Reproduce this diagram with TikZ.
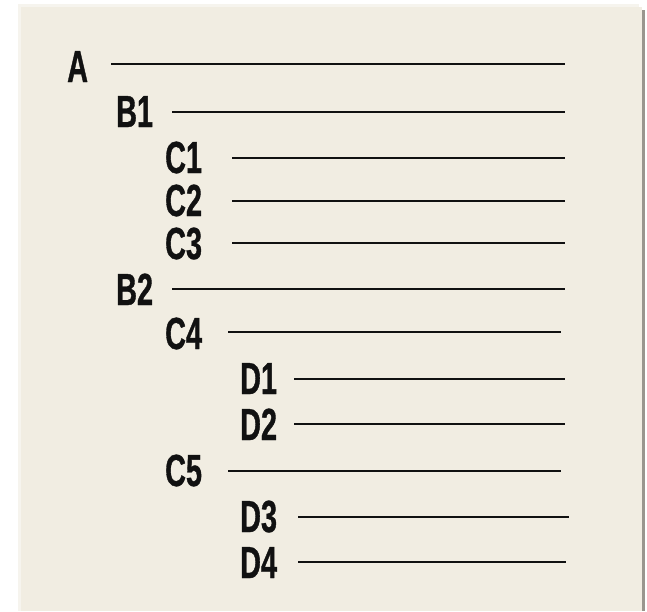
\documentclass[tikz,border=0pt]{standalone}
\usepackage{fontspec}
\newfontfamily\labfont{Liberation Sans}[FakeStretch=0.64,FakeBold=0.8]
\definecolor{panel}{HTML}{F1EDE2}
\definecolor{panellight}{HTML}{F6F4EE}
\definecolor{shadow}{HTML}{9A968E}
\definecolor{ink}{HTML}{111111}
\begin{document}
\begin{tikzpicture}[x=1pt,y=-1pt,
  lab/.style={anchor=base west,inner sep=0pt,font=\labfont\bfseries\fontsize{45}{45}\selectfont,text=ink},
  rule/.style={draw=ink,line width=2pt}]
\useasboundingbox (0,0) rectangle (647,611);
\fill[white] (0,0) rectangle (647,611);
\fill[shadow] (24,10) rectangle (645,611);
\fill[panellight] (18,4) rectangle (639,611);
\fill[panel] (21,7) rectangle (642,611);
% labels
\node[lab] (A)  at (67,82)  {A};
\node[lab] (B1) at (116,127) {B1};
\node[lab] (C1) at (165,173) {C1};
\node[lab] (C2) at (165,216) {C2};
\node[lab] (C3) at (165,259) {C3};
\node[lab] (B2) at (116,305) {B2};
\node[lab] (C4) at (165,349) {C4};
\node[lab] (D1) at (240,394) {D1};
\node[lab] (D2) at (240,440) {D2};
\node[lab] (C5) at (165,486) {C5};
\node[lab] (D3) at (240,532) {D3};
\node[lab] (D4) at (240,578) {D4};
% line end points
\coordinate (a1) at (111,64);  \coordinate (a2) at (565,64);
\coordinate (b11) at (172,112); \coordinate (b12) at (565,112);
\coordinate (c11) at (232,158); \coordinate (c12) at (565,158);
\coordinate (c21) at (232,201); \coordinate (c22) at (565,201);
\coordinate (c31) at (232,243); \coordinate (c32) at (565,243);
\coordinate (b21) at (172,289); \coordinate (b22) at (565,289);
\coordinate (c41) at (228,332); \coordinate (c42) at (561,332);
\coordinate (d11) at (294,379); \coordinate (d12) at (565,379);
\coordinate (d21) at (294,424); \coordinate (d22) at (565,424);
\coordinate (c51) at (228,471); \coordinate (c52) at (561,471);
\coordinate (d31) at (298,517); \coordinate (d32) at (569,517);
\coordinate (d41) at (298,562); \coordinate (d42) at (566,562);
\draw[rule] (a1) -- (a2);
\draw[rule] (b11) -- (b12);
\draw[rule] (c11) -- (c12);
\draw[rule] (c21) -- (c22);
\draw[rule] (c31) -- (c32);
\draw[rule] (b21) -- (b22);
\draw[rule] (c41) -- (c42);
\draw[rule] (d11) -- (d12);
\draw[rule] (d21) -- (d22);
\draw[rule] (c51) -- (c52);
\draw[rule] (d31) -- (d32);
\draw[rule] (d41) -- (d42);
\end{tikzpicture}
\end{document}
